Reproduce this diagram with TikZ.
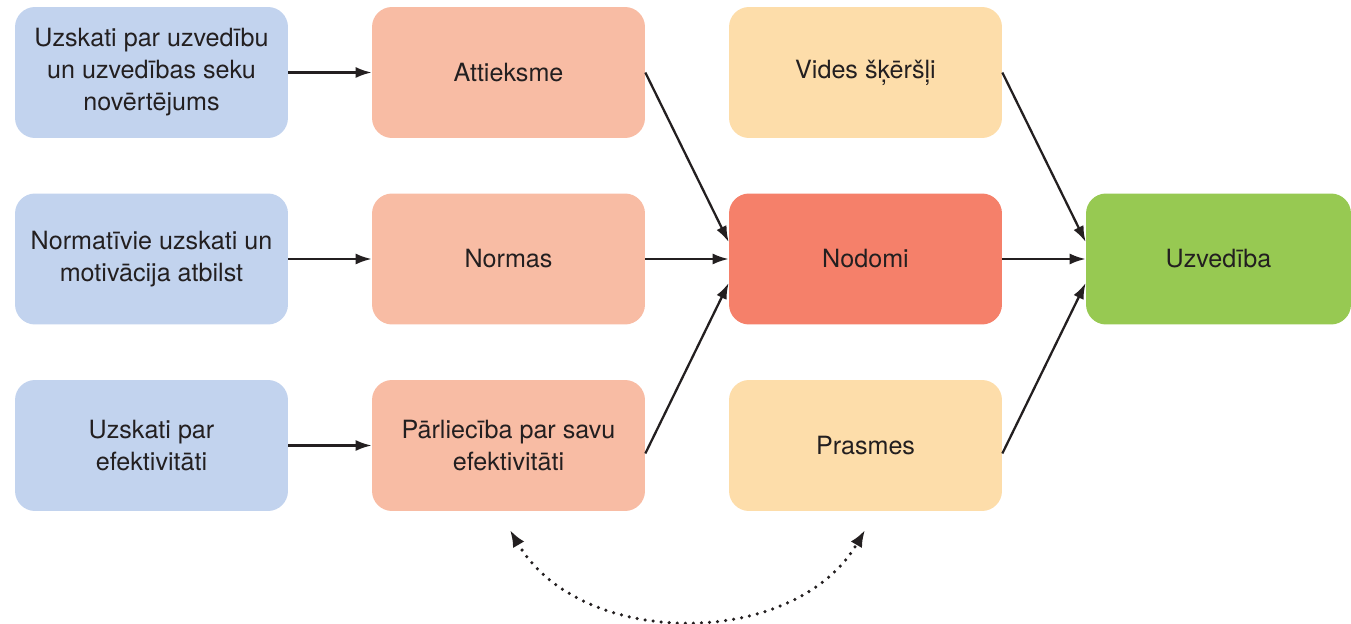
\documentclass[tikz,border=0pt]{standalone}
\usepackage{fontspec}
\setmainfont{TeX Gyre Heros}
\usepackage{tikz}
\usetikzlibrary{arrows.meta}

\definecolor{blueb}{HTML}{C2D3EE}
\definecolor{salmon}{HTML}{F8BCA4}
\definecolor{sand}{HTML}{FDDDAA}
\definecolor{coral}{HTML}{F5806A}
\definecolor{leaf}{HTML}{97C952}
\definecolor{ink}{HTML}{231F20}

\begin{document}
\begin{tikzpicture}[x=0.02cm, y=-0.02cm, >={Latex[length=0.32cm,width=0.22cm]},
	every node/.style={rounded corners=0.4cm, minimum width=5.46cm, minimum height=2.62cm,
		align=center, text=ink, font=\fontsize{14.3}{18.2}\selectfont},
	link/.style={->, ink, line width=1.3pt}]
	\useasboundingbox (0,0) rectangle (1351,624);
	
	\node[fill=blueb] (a) at (151.5, 72.5) {Uzskati par uzvedību\\un uzvedības seku\\novērtējums};
	\node[fill=blueb] (b) at (151.5, 259) {Normatīvie uzskati un\\motivācija atbilst};
	\node[fill=blueb] (c) at (151.5, 445.5) {Uzskati par\\efektivitāti};
	
	\node[fill=salmon] (d) at (508.5, 72.5) {Attieksme};
	\node[fill=salmon] (e) at (508.5, 259) {Normas};
	\node[fill=salmon] (f) at (508.5, 445.5) {Pārliecība par savu\\efektivitāti};
	
	\node[fill=sand] (g) at (865.5, 72.5) {Vides šķēršļi};
	\node[fill=coral] (h) at (865.5, 259) {Nodomi};
	\node[fill=sand] (i) at (865.5, 445.5) {Prasmes};
	
	\node[fill=leaf, minimum width=5.3cm] (j) at (1218.5, 259) {Uzvedība};
	
	\coordinate (k) at (510, 530);
	\coordinate (l) at (865, 530);
	
	\draw[link] (a) -- (d);
	\draw[link] (b) -- (e);
	\draw[link] (c) -- (f);
	\draw[link] (d.east) -- ([yshift=0.34cm]h.west);
	\draw[link] (e) -- (h);
	\draw[link] ([yshift=-0.16cm]f.east) -- ([yshift=-0.48cm]h.west);
	\draw[link] (g.east) -- ([yshift=0.34cm]j.west);
	\draw[link] (h) -- (j);
	\draw[link] ([yshift=-0.16cm]i.east) -- ([yshift=-0.48cm]j.west);
	\draw[<->, ink, line width=2pt, line cap=round, dash pattern=on 0pt off 4.6pt,
		>={Latex[length=0.34cm,width=0.26cm]}] (k) .. controls (580, 650) and (795, 650) .. (l);
\end{tikzpicture}
\end{document}
